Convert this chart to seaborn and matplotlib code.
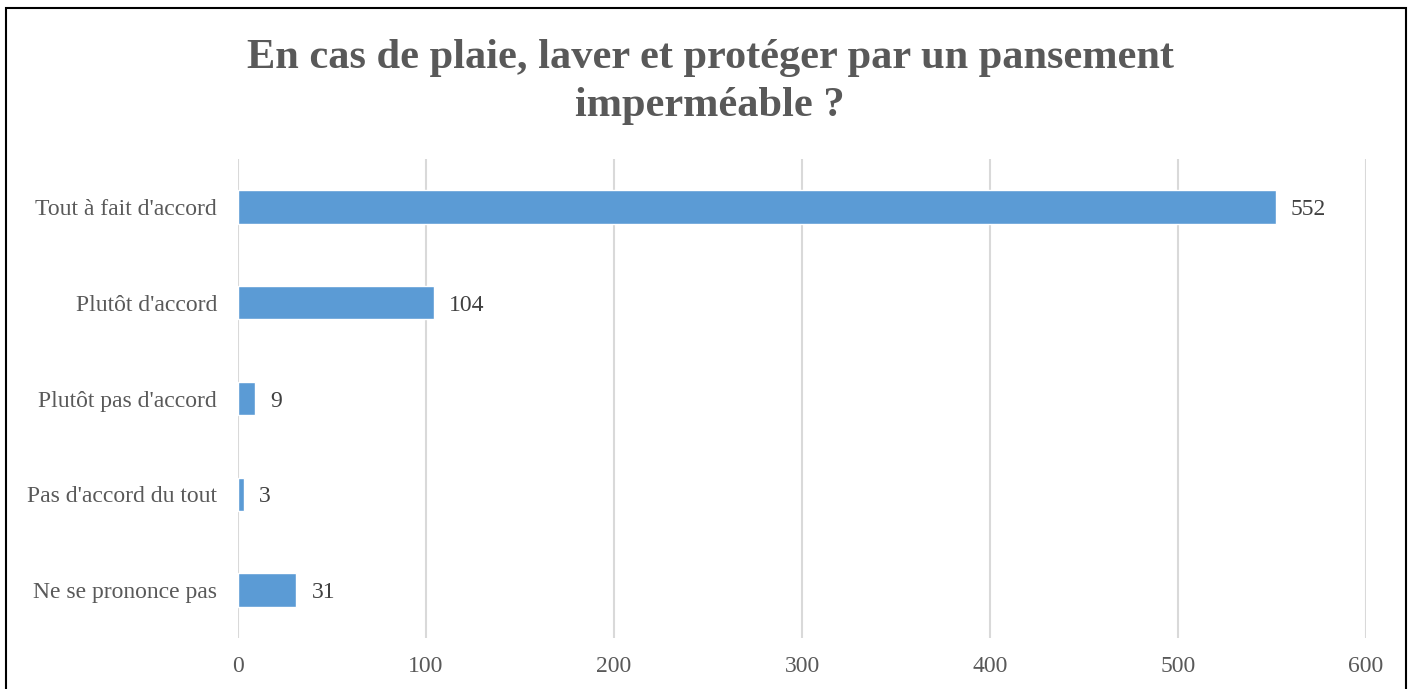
import matplotlib
matplotlib.use("Agg")
import matplotlib.pyplot as plt
import pandas as pd
import seaborn as sns
from matplotlib.patches import Rectangle

categories = [
    "Tout à fait d'accord",
    "Plutôt d'accord",
    "Plutôt pas d'accord",
    "Pas d'accord du tout",
    "Ne se prononce pas",
]
counts = [552, 104, 9, 3, 31]
x_ticks = [0, 100, 200, 300, 400, 500, 600]
title = "En cas de plaie, laver et protéger par un pansement\nimperméable ?"

BAR_COLOR = "#5B9BD5"
TEXT_GREY = "#595959"
GRID_GREY = "#D9D9D9"

sns.set_theme(style="white")
plt.rcParams["font.family"] = ["Liberation Serif", "DejaVu Serif"]

df = pd.DataFrame({"categorie": categories, "n": counts})

fig = plt.figure(figsize=(14.09, 6.89), dpi=100)
ax = fig.add_axes([0.1689, 0.074, 0.8006, 0.6952])

sns.barplot(data=df, x="n", y="categorie", color=BAR_COLOR, width=0.35,
            saturation=1, ax=ax, zorder=3)

ax.set_xlim(0, 600)
ax.set_ylim(4.5, -0.5)
ax.set_xticks(x_ticks)
ax.set_xticklabels([str(t) for t in x_ticks])
ax.set_xlabel("")
ax.set_ylabel("")
ax.grid(axis="x", color=GRID_GREY, linewidth=1.5, zorder=0)
ax.grid(axis="y", visible=False)
for s in ax.spines.values():
    s.set_visible(False)
ax.tick_params(axis="both", length=0, labelsize=17, colors=TEXT_GREY)
ax.tick_params(axis="y", pad=15)
ax.tick_params(axis="x", pad=13)

for cont in ax.containers:
    labs = ax.bar_label(cont, labels=[str(v) for v in counts], padding=11,
                        fontsize=17, color="#404040")
    for t in labs:
        t.set_va("center_baseline")

fig.text(0.504, 0.881, title, ha="center", va="center", fontsize=30.5,
         fontweight="bold", color=TEXT_GREY, linespacing=1.32)

# chart frame
fig.patches.append(Rectangle((6 / 1409, -0.05), 1400 / 1409, 1.05 - 8 / 689,
                             transform=fig.transFigure, fill=False,
                             edgecolor="black", linewidth=1.5))

fig.savefig("out.png", dpi=100)
plt.close(fig)
